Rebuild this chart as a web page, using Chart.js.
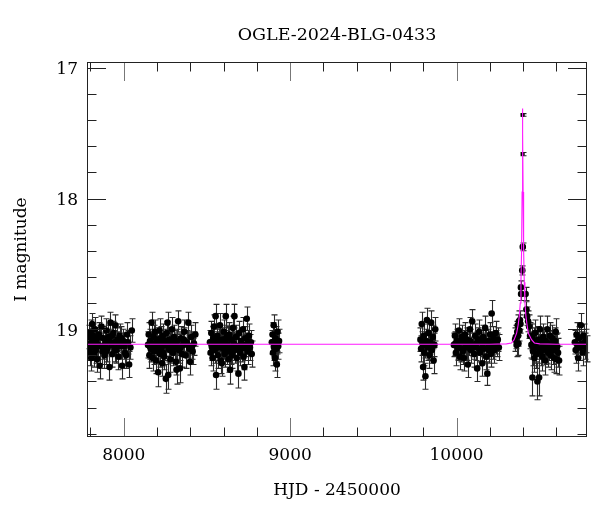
<!DOCTYPE html>
<html>
<head>
<meta charset="utf-8">
<script src="https://cdn.jsdelivr.net/npm/chart.js@4.4.1/dist/chart.umd.min.js"></script>
<style>
  html, body { margin: 0; padding: 0; background: #fff; }
  canvas { display: block; }
</style>
</head>
<body>
<canvas id="lightCurve" width="600" height="512"></canvas>
<script>
// OGLE photometry, one array per observing season: [HJD - 2450000, I mag, error]
const season2017 = [
  [7792, 19.06, 0.09], [7795, 19.18, 0.10], [7798, 19.11, 0.09], [7801, 19.02, 0.09], [7804, 19.22, 0.10],
  [7807, 19.09, 0.09], [7810, 18.96, 0.08], [7813, 19.14, 0.10], [7816, 19.05, 0.09], [7820, 19.19, 0.10],
  [7824, 19.10, 0.09], [7828, 19.00, 0.09], [7832, 19.16, 0.10], [7836, 19.08, 0.09], [7840, 19.23, 0.10],
  [7845, 19.12, 0.09], [7850, 19.04, 0.09], [7855, 19.28, 0.10], [7860, 19.13, 0.10], [7866, 18.98, 0.08],
  [7872, 19.17, 0.10], [7878, 19.07, 0.09], [7884, 19.20, 0.10], [7890, 19.11, 0.09], [7896, 19.01, 0.09],
  [7902, 19.15, 0.10], [7908, 19.06, 0.09], [7914, 19.29, 0.10], [7920, 18.95, 0.08], [7926, 19.12, 0.09],
  [7932, 19.19, 0.10], [7938, 19.03, 0.09], [7944, 19.10, 0.09], [7950, 18.97, 0.08], [7956, 19.16, 0.10],
  [7962, 19.08, 0.09], [7968, 19.21, 0.10], [7975, 19.05, 0.09], [7982, 19.13, 0.10], [7990, 19.28, 0.10],
  [7998, 19.09, 0.09], [8008, 19.18, 0.10], [8020, 19.04, 0.09], [8032, 19.27, 0.10], [8040, 19.14, 0.09],
  [8048, 19.01, 0.09], [7800, 19.14, 0.10], [7818, 19.08, 0.09], [7838, 19.12, 0.10], [7858, 19.06, 0.09],
  [7875, 19.13, 0.10], [7893, 19.17, 0.10], [7911, 19.09, 0.09], [7929, 19.05, 0.09], [7947, 19.15, 0.10],
  [7965, 19.11, 0.09], [7986, 19.07, 0.09], [8003, 19.13, 0.10], [8014, 19.20, 0.10], [8026, 19.10, 0.09]
];
const season2018 = [
  [8146, 19.12, 0.10], [8150, 19.04, 0.09], [8154, 19.20, 0.10], [8158, 19.09, 0.09], [8162, 19.15, 0.10],
  [8167, 18.95, 0.08], [8171, 19.11, 0.09], [8175, 19.22, 0.10], [8179, 19.06, 0.09], [8183, 19.17, 0.10],
  [8187, 19.02, 0.09], [8191, 19.13, 0.10], [8195, 19.24, 0.10], [8199, 19.08, 0.09], [8203, 19.16, 0.10],
  [8207, 19.33, 0.11], [8211, 19.10, 0.09], [8215, 19.01, 0.09], [8219, 19.19, 0.10], [8223, 19.07, 0.09],
  [8227, 19.14, 0.10], [8231, 19.26, 0.10], [8235, 19.05, 0.09], [8239, 19.12, 0.09], [8243, 19.21, 0.10],
  [8248, 19.09, 0.09], [8253, 19.38, 0.11], [8258, 19.03, 0.09], [8263, 18.95, 0.08], [8267, 19.35, 0.11],
  [8270, 19.15, 0.10], [8275, 19.08, 0.09], [8280, 19.23, 0.10], [8285, 19.11, 0.09], [8290, 19.00, 0.09],
  [8296, 19.18, 0.10], [8302, 19.06, 0.09], [8308, 19.14, 0.10], [8313, 19.25, 0.10], [8317, 19.31, 0.11],
  [8322, 19.09, 0.09], [8327, 18.94, 0.08], [8332, 19.16, 0.10], [8337, 19.30, 0.11], [8343, 19.07, 0.09],
  [8350, 19.19, 0.10], [8357, 19.12, 0.09], [8364, 19.02, 0.09], [8371, 19.20, 0.10], [8378, 19.10, 0.09],
  [8388, 18.95, 0.08], [8394, 19.15, 0.10], [8398, 19.25, 0.10], [8405, 19.06, 0.09], [8414, 19.17, 0.10],
  [8422, 19.11, 0.09], [8430, 19.04, 0.09], [8156, 19.13, 0.10], [8177, 19.14, 0.10], [8197, 19.11, 0.09],
  [8217, 19.15, 0.10], [8237, 19.18, 0.10], [8255, 19.12, 0.09], [8277, 19.16, 0.10], [8299, 19.10, 0.09],
  [8319, 19.13, 0.10], [8340, 19.14, 0.10], [8361, 19.08, 0.09], [8384, 19.12, 0.10], [8410, 19.13, 0.10]
];
const season2019 = [
  [8518, 19.10, 0.09], [8522, 19.18, 0.10], [8526, 19.03, 0.09], [8530, 19.14, 0.10], [8534, 19.22, 0.10],
  [8538, 19.07, 0.09], [8542, 18.98, 0.09], [8547, 19.16, 0.10], [8552, 18.90, 0.09], [8555, 19.35, 0.11],
  [8558, 19.11, 0.09], [8562, 19.05, 0.09], [8566, 19.20, 0.10], [8570, 19.09, 0.09], [8574, 19.13, 0.10],
  [8578, 18.97, 0.09], [8583, 19.24, 0.10], [8589, 19.26, 0.10], [8593, 19.08, 0.09], [8597, 19.15, 0.10],
  [8601, 19.02, 0.09], [8606, 19.19, 0.10], [8610, 19.10, 0.09], [8613, 18.90, 0.09], [8617, 19.06, 0.09],
  [8621, 19.17, 0.10], [8625, 19.12, 0.09], [8630, 19.23, 0.10], [8634, 19.04, 0.09], [8639, 19.31, 0.11],
  [8643, 19.14, 0.10], [8648, 19.08, 0.09], [8652, 19.20, 0.10], [8656, 18.99, 0.09], [8661, 19.11, 0.09],
  [8665, 18.90, 0.09], [8669, 19.16, 0.10], [8674, 19.06, 0.09], [8679, 19.22, 0.10], [8684, 19.13, 0.10],
  [8689, 19.34, 0.11], [8694, 19.03, 0.09], [8699, 19.18, 0.10], [8704, 19.09, 0.09], [8710, 19.15, 0.10],
  [8716, 19.00, 0.09], [8720, 19.21, 0.10], [8725, 19.29, 0.10], [8730, 19.07, 0.09], [8735, 19.12, 0.09],
  [8739, 18.92, 0.09], [8745, 19.17, 0.10], [8752, 19.05, 0.09], [8758, 19.14, 0.10], [8764, 19.10, 0.09],
  [8769, 19.19, 0.10], [8528, 19.12, 0.10], [8545, 19.09, 0.09], [8564, 19.14, 0.10], [8586, 19.11, 0.09],
  [8604, 19.13, 0.10], [8627, 19.07, 0.09], [8646, 19.17, 0.10], [8667, 19.12, 0.09], [8687, 19.15, 0.10],
  [8707, 19.11, 0.09], [8727, 19.14, 0.10], [8748, 19.10, 0.09]
];
const season2020 = [
  [8890, 19.10, 0.09], [8894, 19.04, 0.09], [8897, 19.18, 0.10], [8901, 18.97, 0.08], [8905, 19.12, 0.09],
  [8908, 19.22, 0.10], [8912, 19.07, 0.09], [8916, 19.15, 0.10], [8920, 19.27, 0.10], [8924, 19.02, 0.09],
  [8928, 19.13, 0.10], [8933, 19.09, 0.09], [8903, 19.14, 0.10], [8918, 19.10, 0.09]
];
const season2022 = [
  [9783, 19.08, 0.09], [9787, 19.15, 0.10], [9791, 18.96, 0.09], [9795, 19.11, 0.09], [9799, 19.29, 0.10],
  [9803, 19.05, 0.09], [9807, 19.18, 0.10], [9813, 19.36, 0.10], [9817, 19.09, 0.09], [9822, 18.93, 0.09],
  [9827, 19.14, 0.10], [9832, 19.03, 0.09], [9837, 19.20, 0.10], [9842, 19.10, 0.09], [9847, 18.95, 0.09],
  [9852, 19.16, 0.10], [9857, 19.06, 0.09], [9862, 19.24, 0.10], [9867, 19.12, 0.09], [9872, 19.00, 0.09],
  [9810, 19.12, 0.10], [9834, 19.13, 0.10]
];
const season2023 = [
  [9984, 19.12, 0.09], [9990, 19.05, 0.09], [9996, 19.18, 0.10], [10002, 19.09, 0.09], [10008, 19.14, 0.10],
  [10014, 19.01, 0.09], [10020, 19.21, 0.10], [10026, 19.10, 0.09], [10032, 19.06, 0.09], [10038, 19.17, 0.10],
  [10044, 19.22, 0.10], [10050, 19.04, 0.09], [10056, 19.13, 0.10], [10062, 19.08, 0.09], [10068, 19.27, 0.10],
  [10074, 19.11, 0.09], [10080, 19.00, 0.09], [10086, 19.16, 0.10], [10094, 18.94, 0.09], [10100, 19.12, 0.09],
  [10106, 19.19, 0.10], [10112, 19.05, 0.09], [10118, 19.14, 0.10], [10124, 19.30, 0.10], [10130, 19.08, 0.09],
  [10136, 19.02, 0.09], [10142, 19.18, 0.10], [10148, 19.10, 0.09], [10155, 19.26, 0.10], [10160, 19.06, 0.09],
  [10166, 19.15, 0.10], [10172, 18.99, 0.09], [10178, 19.21, 0.10], [10185, 19.34, 0.09], [10190, 19.09, 0.09],
  [10196, 19.13, 0.10], [10202, 19.04, 0.09], [10206, 19.19, 0.10], [10211, 18.88, 0.10], [10216, 19.11, 0.09],
  [10222, 19.07, 0.09], [10228, 19.16, 0.10], [10235, 19.03, 0.09], [10241, 19.12, 0.09], [10248, 19.08, 0.09],
  [10254, 19.14, 0.10], [9993, 19.11, 0.09], [10011, 19.13, 0.10], [10029, 19.15, 0.10], [10047, 19.10, 0.09],
  [10065, 19.14, 0.10], [10083, 19.09, 0.09], [10103, 19.13, 0.10], [10121, 19.11, 0.09], [10139, 19.15, 0.10],
  [10157, 19.12, 0.09], [10175, 19.10, 0.09], [10193, 19.16, 0.10], [10219, 19.13, 0.10], [10238, 19.10, 0.09]
];
const season2024 = [
  [10352, 19.08, 0.09], [10356, 19.06, 0.09], [10361, 19.12, 0.09], [10365, 19.02, 0.08], [10368, 18.97, 0.08],
  [10372, 19.11, 0.09], [10375, 18.94, 0.08], [10378, 19.01, 0.08], [10381, 18.93, 0.07], [10384, 18.96, 0.07],
  [10387, 18.68, 0.05], [10388, 18.73, 0.05], [10395, 18.55, 0.035], [10397, 17.66, 0.012], [10397, 17.36, 0.01],
  [10398, 18.37, 0.03], [10415, 18.73, 0.05], [10420, 18.85, 0.06], [10424, 18.90, 0.07], [10430, 18.94, 0.08],
  [10436, 18.98, 0.09], [10442, 19.05, 0.10], [10450, 19.12, 0.10], [10454, 19.06, 0.10], [10456, 19.37, 0.14],
  [10460, 19.17, 0.11], [10464, 19.09, 0.10], [10468, 19.22, 0.11], [10472, 19.03, 0.10], [10476, 19.14, 0.11],
  [10480, 19.19, 0.11], [10486, 19.40, 0.14], [10490, 19.08, 0.10], [10496, 19.37, 0.14], [10501, 19.00, 0.10],
  [10506, 19.17, 0.11], [10511, 19.10, 0.10], [10516, 19.21, 0.11], [10521, 19.06, 0.10], [10526, 19.13, 0.11],
  [10531, 19.24, 0.11], [10536, 19.09, 0.10], [10541, 19.15, 0.11], [10546, 19.00, 0.10], [10551, 19.18, 0.11],
  [10556, 19.11, 0.10], [10561, 19.05, 0.10], [10566, 19.20, 0.11], [10571, 19.12, 0.10], [10576, 19.07, 0.10],
  [10581, 19.16, 0.11], [10586, 19.22, 0.11], [10591, 19.09, 0.10], [10596, 19.02, 0.10], [10600, 19.23, 0.11],
  [10605, 19.13, 0.10], [10610, 19.18, 0.11], [10616, 19.24, 0.11], [10370, 19.05, 0.08], [10458, 19.13, 0.10],
  [10478, 19.11, 0.10], [10498, 19.15, 0.11], [10518, 19.12, 0.10], [10538, 19.16, 0.11], [10558, 19.14, 0.10],
  [10578, 19.12, 0.10], [10598, 19.15, 0.11]
];
const season2025 = [
  [10711, 19.10, 0.09], [10716, 19.16, 0.10], [10721, 19.04, 0.09], [10726, 19.12, 0.09], [10731, 19.22, 0.10],
  [10736, 19.07, 0.09], [10741, 19.14, 0.10], [10747, 18.97, 0.09], [10752, 19.11, 0.09], [10757, 19.18, 0.10],
  [10763, 19.05, 0.09], [10769, 19.13, 0.10], [10775, 19.09, 0.09], [10781, 19.15, 0.10]
];

// microlensing model curve
const modelHjd = [7779, 10200, 10300, 10330, 10346, 10361, 10370, 10377, 10383, 10387, 10391, 10394, 10396,
  10397, 10398, 10400, 10403, 10407, 10411, 10417, 10424, 10431, 10451, 10468, 10500, 10600, 10784];
const modelMag = [19.115, 19.115, 19.112, 19.105, 19.08, 19.03, 18.97, 18.90, 18.80, 18.64, 18.39, 17.95, 17.50,
  17.31, 17.50, 17.95, 18.39, 18.64, 18.80, 18.90, 18.97, 19.03, 19.08, 19.105, 19.112, 19.115, 19.115];

const xLabelTicks = [8000, 9000, 10000];
const xMinorTicks = [7800, 8000, 8200, 8400, 8600, 8800, 9000, 9200, 9400, 9600, 9800, 10000, 10200, 10400, 10600];
const yLabelTicks = [17, 18, 19];
const yMinorTicks = [17, 17.2, 17.4, 17.6, 17.8, 18, 18.2, 18.4, 18.6, 18.8, 19, 19.2, 19.4, 19.6, 19.8];

const photometry = [].concat(season2017, season2018, season2019, season2020,
  season2022, season2023, season2024, season2025);

const FONT = "'DejaVu Serif', 'Liberation Serif', serif";

// error bars under the points, frame + inward ticks + title on top
const lightCurveDecor = {
  id: 'lightCurveDecor',
  beforeDatasetsDraw(chart) {
    const { ctx, scales: { x, y } } = chart;
    ctx.save();
    ctx.strokeStyle = '#2a2a2a';
    ctx.lineWidth = 1.1;
    ctx.beginPath();
    for (const [t, m, e] of photometry) {
      const px = Math.round(x.getPixelForValue(t)) + 0.5;
      const y1 = y.getPixelForValue(m - e);
      const y2 = y.getPixelForValue(m + e);
      ctx.moveTo(px, y1); ctx.lineTo(px, y2);
      ctx.moveTo(px - 3, y1); ctx.lineTo(px + 3, y1);
      ctx.moveTo(px - 3, y2); ctx.lineTo(px + 3, y2);
    }
    ctx.stroke();
    ctx.restore();
  },
  afterDraw(chart) {
    const { ctx, chartArea: a, scales: { x, y } } = chart;
    ctx.save();
    ctx.lineWidth = 1;

    for (const v of xMinorTicks) {
      const major = xLabelTicks.includes(v);
      const len = major ? 19 : 9.5;
      const px = Math.round(x.getPixelForValue(v)) + 0.5;
      ctx.strokeStyle = major ? '#777' : '#222';
      ctx.beginPath();
      ctx.moveTo(px, a.bottom); ctx.lineTo(px, a.bottom - len);
      ctx.moveTo(px, a.top); ctx.lineTo(px, a.top + len);
      ctx.stroke();
    }
    ctx.strokeStyle = '#222';
    for (const v of yMinorTicks) {
      const len = yLabelTicks.includes(v) ? 19 : 9.5;
      const py = Math.round(y.getPixelForValue(v)) + 0.5;
      ctx.beginPath();
      ctx.moveTo(a.left, py); ctx.lineTo(a.left + len, py);
      ctx.moveTo(a.right, py); ctx.lineTo(a.right - len, py);
      ctx.stroke();
    }

    ctx.strokeStyle = '#222';
    ctx.strokeRect(a.left + 0.5, a.top + 0.5, a.right - a.left - 1, a.bottom - a.top - 1);

    ctx.fillStyle = '#000';
    ctx.font = "17.5px " + FONT;
    ctx.textAlign = 'center';
    ctx.textBaseline = 'middle';
    ctx.fillText('OGLE-2024-BLG-0433', (a.left + a.right) / 2, 35.5);
    ctx.restore();
  }
};

new Chart(document.getElementById('lightCurve'), {
  type: 'scatter',
  data: {
    datasets: [
      {
        label: 'model',
        data: modelHjd.map((t, i) => ({ x: t, y: modelMag[i] })),
        showLine: true,
        borderColor: '#ff1aff',
        borderWidth: 1.1,
        pointRadius: 0,
        tension: 0,
        fill: false,
      },
      {
        label: 'OGLE I',
        data: photometry.map(([t, m]) => ({ x: t, y: m })),
        backgroundColor: '#000',
        borderColor: '#000',
        borderWidth: 0,
        // the two brightest points are drawn smaller, as in the source plot
        pointRadius: (c) => (photometry[c.dataIndex] && photometry[c.dataIndex][2] < 0.02 ? 2.2 : 3.3),
      },
    ],
  },
  options: {
    responsive: false,
    animation: false,
    devicePixelRatio: 1,
    layout: { padding: { left: 0, right: 13, top: 62, bottom: 0 } },
    scales: {
      x: {
        type: 'linear',
        min: 7779,
        max: 10784,
        grid: { display: false, drawTicks: false },
        border: { display: false },
        afterBuildTicks: (axis) => { axis.ticks = xLabelTicks.map((v) => ({ value: v })); },
        afterFit: (axis) => { axis.height = 75; },
        ticks: {
          padding: 8,
          maxRotation: 0,
          color: '#000',
          font: { family: FONT, size: 17 },
          callback: (v) => String(v),
        },
        title: {
          display: true,
          text: 'HJD - 2450000',
          color: '#000',
          font: { family: FONT, size: 17 },
          padding: { top: 0, bottom: 11 },
        },
      },
      y: {
        type: 'linear',
        reverse: true,
        min: 16.955,
        max: 19.825,
        grid: { display: false, drawTicks: false },
        border: { display: false },
        afterBuildTicks: (axis) => { axis.ticks = yLabelTicks.map((v) => ({ value: v })); },
        afterFit: (axis) => { axis.width = 87; },
        ticks: {
          padding: 9,
          labelOffset: 2,
          color: '#000',
          font: { family: FONT, size: 17 },
          callback: (v) => String(v),
        },
        title: {
          display: true,
          text: 'I magnitude',
          color: '#000',
          font: { family: FONT, size: 17 },
          padding: { top: 11, bottom: 0 },
        },
      },
    },
    plugins: {
      legend: { display: false },
      tooltip: { enabled: false },
    },
  },
  plugins: [lightCurveDecor],
});
</script>
</body>
</html>
